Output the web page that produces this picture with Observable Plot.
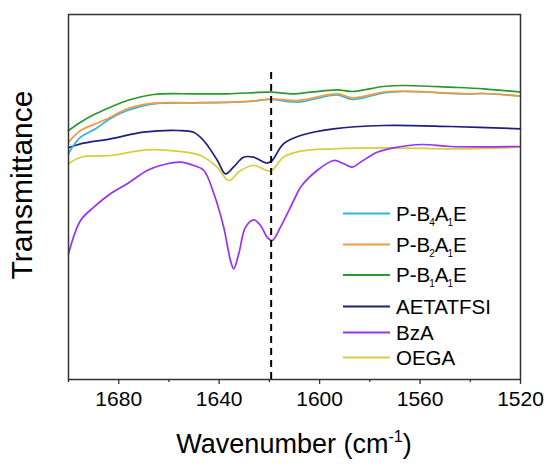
<!DOCTYPE html>
<html><head><meta charset="utf-8">
<script src="https://cdn.jsdelivr.net/npm/d3@7"></script>
<script src="https://cdn.jsdelivr.net/npm/@observablehq/plot@0.6"></script>
<style>body{margin:0;background:#fff;font-family:"Liberation Sans",Arial,sans-serif}</style>
</head><body><div id="chart"></div><script>
// Series (arbitrary transmittance units)
const seriesNames = ["OEGA", "BzA", "AETATFSI", "P-B1A1E", "P-B4A1E", "P-B2A1E"];
const seriesColors = ["#d6cf3c", "#9a32f5", "#1e1e7e", "#2a982a", "#2fb4e2", "#f39a3e"];

const wnOEGA = [1700, 1695.2, 1683.3, 1668.7, 1656.6, 1647.4, 1640.8, 1636.2, 1631.5, 1626.2, 1619.6, 1614.4, 1607.6, 1594.5, 1574.6, 1541.2, 1520];
const tOEGA  = [215.7, 222.3, 224, 229.7, 228.3, 224, 212.3, 199, 209, 214, 208.5, 222.3, 228.3, 230.7, 231.7, 230.7, 232.3];

const wnBzA = [1700, 1695.2, 1689.9, 1683.3, 1676.6, 1668.7, 1663.4, 1655.4, 1650.1, 1646.1, 1642.1, 1638.2, 1635.5, 1634.2, 1632.2, 1629.5, 1626.2, 1623.5, 1620.9, 1618.9, 1615.6, 1610.3, 1607.6, 1601, 1594.3, 1590.4, 1587, 1583.7, 1577.1, 1570.5, 1559.1, 1547.9, 1520];
const tBzA  = [125.7, 159, 172.3, 185.7, 195.7, 209, 214, 217.3, 214, 209, 185.7, 152.3, 119, 110.7, 125.7, 152.3, 159.7, 154, 142.3, 139, 152.3, 179, 192.3, 209, 219, 215.7, 212.3, 217.3, 227.3, 231.7, 235, 233, 233];

const wnAET = [1700, 1695.2, 1683.3, 1670.1, 1656.6, 1650.2, 1646.2, 1640.7, 1637.5, 1634.3, 1630.3, 1626.3, 1620.9, 1618.9, 1614.4, 1607.6, 1594.5, 1574.6, 1547.9, 1520];
const tAET  = [231.7, 235.7, 240.7, 247.3, 249, 247.3, 239, 219, 205.7, 212.3, 222.3, 222.3, 216.3, 219, 235.7, 244, 250.7, 254, 253, 250.7];

const wnB1 = [1700, 1695.2, 1689.2, 1683.3, 1676.6, 1666.1, 1650.2, 1636.7, 1619.6, 1610.4, 1603.6, 1593, 1587, 1574.6, 1566.6, 1547.9, 1534.7, 1520];
const tB1  = [249, 257.3, 265.7, 272.3, 279, 285, 285.7, 285.7, 287.3, 285.7, 287.3, 289.7, 288, 293, 294, 292.3, 290.7, 287.3];

const wnB4 = [1700, 1695.2, 1689.2, 1683.3, 1676.6, 1666.1, 1650.2, 1636.7, 1627.5, 1619.6, 1608.9, 1593, 1587, 1574.6, 1566.6, 1541.2, 1534.7, 1520];
const tB4  = [226, 242.3, 250.7, 261, 269, 275.7, 276.7, 277, 278, 280, 277.3, 284.5, 280, 286.5, 288, 285.5, 286, 283.5];

const wnB2 = [1700, 1695.2, 1689.2, 1683.3, 1676.6, 1666.1, 1650.2, 1636.7, 1627.5, 1619.6, 1608.9, 1593, 1587, 1574.6, 1566.6, 1541.2, 1534.7, 1520];
const tB2  = [237.3, 249, 255.7, 262.3, 270.7, 276.3, 276.7, 277.3, 278.3, 280.7, 279, 285.7, 281.7, 287.3, 288.3, 285.7, 286, 283.3];

const majorTicks = [1680, 1640, 1600, 1560, 1520];
const minorTicks = [1700, 1660, 1620, 1580, 1540];
const dashWn = 1619.3;
const dashTop = 312;

const seriesData = {
  "OEGA": [wnOEGA, tOEGA], "BzA": [wnBzA, tBzA], "AETATFSI": [wnAET, tAET],
  "P-B1A1E": [wnB1, tB1], "P-B4A1E": [wnB4, tB4], "P-B2A1E": [wnB2, tB2]
};
const rows = seriesNames.flatMap(n => seriesData[n][0].map((w, i) => ({name: n, wn: w, t: seriesData[n][1][i]})));

const font = '"Liberation Sans", Arial, sans-serif';
const W = 552, H = 465, mL = 68, mR = 32, mT = 14, mB = 86;

const plot = Plot.plot({
  width: W, height: H, marginLeft: mL, marginRight: mR, marginTop: mT, marginBottom: mB,
  style: {fontFamily: font, fontSize: "21px", color: "#000", background: "#fff"},
  x: {domain: [1700, 1520]},
  y: {domain: [0, 365], axis: null},
  color: {domain: seriesNames, range: seriesColors},
  marks: [
    Plot.line(rows, {x: "wn", y: "t", z: "name", stroke: "name", curve: "catmull-rom", strokeWidth: 1.7}),
    Plot.ruleX([dashWn], {y1: 0, y2: dashTop, stroke: "#000", strokeWidth: 2, strokeDasharray: "7,5"}),
    Plot.frame({stroke: "#333", strokeWidth: 1.5}),
    Plot.axisX({ticks: majorTicks, tickSize: 5, tickPadding: 7, fontSize: 21, label: null, stroke: "#333", strokeWidth: 1.3, tickFormat: d => String(d)}),
    Plot.axisX({ticks: minorTicks, tickSize: 3, text: null, label: null, stroke: "#333", strokeWidth: 1.3})
  ]
});
document.getElementById("chart").appendChild(plot);

const svg = d3.select(plot);
// axis titles
const xl = svg.append("text").attr("x", (mL + W - mR) / 2).attr("y", 453)
  .attr("text-anchor", "middle").attr("font-size", 27).attr("font-family", font).attr("fill", "#000");
xl.append("tspan").text("Wavenumber (cm");
xl.append("tspan").text("-1").attr("font-size", 16).attr("dy", -11);
xl.append("tspan").text(")").attr("dy", 11);

svg.append("text").attr("transform", "translate(32,185) rotate(-90)")
  .attr("text-anchor", "middle").attr("font-size", 30).attr("font-family", font).attr("fill", "#000")
  .text("Transmittance");

// legend
const legendItems = [
  {name: "P-B4A1E", parts: [["P-B", 0], ["4", 1], ["A", 0], ["1", 1], ["E", 0]]},
  {name: "P-B2A1E", parts: [["P-B", 0], ["2", 1], ["A", 0], ["1", 1], ["E", 0]]},
  {name: "P-B1A1E", parts: [["P-B", 0], ["1", 1], ["A", 0], ["1", 1], ["E", 0]]},
  {name: "AETATFSI", parts: [["AETATFSI", 0]]},
  {name: "BzA", parts: [["BzA", 0]]},
  {name: "OEGA", parts: [["OEGA", 0]]}
];
const legendY = [213.5, 244.5, 275, 306.5, 332.5, 357.5];
const lg = svg.append("g").attr("text-anchor", "start");
legendItems.forEach((it, i) => {
  const y = legendY[i];
  const c = seriesColors[seriesNames.indexOf(it.name)];
  lg.append("line").attr("x1", 343).attr("x2", 390).attr("y1", y).attr("y2", y)
    .attr("stroke", c).attr("stroke-width", 2);
  const t = lg.append("text").attr("x", 396).attr("y", y + 7).attr("font-size", 20.5)
    .attr("text-anchor", "start").attr("font-family", font).attr("fill", "#000");
  let prevSub = 0;
  it.parts.forEach(([s, sub]) => {
    const dy = sub === prevSub ? 0 : (sub ? 5 : -5);
    const sp = t.append("tspan").text(s).attr("dy", dy);
    if (sub) sp.attr("font-size", 10).attr("dx", -1);
    prevSub = sub;
  });
});
</script></body></html>
